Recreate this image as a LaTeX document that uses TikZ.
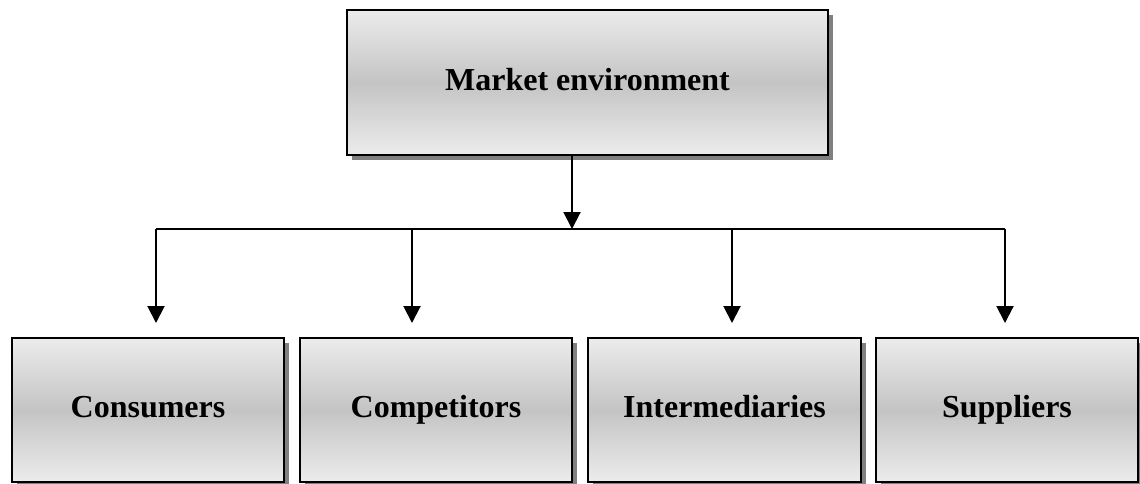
\documentclass[tikz,border=0pt]{standalone}
\usepackage{fontspec}
\setmainfont{Liberation Serif}
\usetikzlibrary{arrows.meta,shadows}
\definecolor{boxlight}{RGB}{236,236,236}
\definecolor{boxmid}{RGB}{196,196,196}
\definecolor{shadowgray}{RGB}{128,128,128}
\pgfdeclareverticalshading{boxshade}{100bp}{color(0bp)=(boxlight); color(25bp)=(boxlight); color(50bp)=(boxmid); color(75bp)=(boxlight); color(100bp)=(boxlight)}
\tikzset{
  box/.style={draw=black, line width=2.6pt, inner sep=0pt, outer sep=0pt,
    shading=boxshade,
    drop shadow={shadow xshift=5pt, shadow yshift=-5pt, fill=shadowgray, opacity=1},
    font=\fontsize{32}{38}\selectfont\bfseries, text height=22pt, text depth=7pt,
    minimum height=145pt},
  conn/.style={line width=2pt, draw=black},
  arr/.style={conn, -{Triangle[length=17pt,width=17pt]}}
}
\begin{document}
\begin{tikzpicture}[x=1pt,y=-1pt]
\useasboundingbox (0,0) rectangle (1140,483);
\node[box, minimum width=481pt] (top) at (587.5,82.5) {Market environment};
\node[box, minimum width=272pt, minimum height=144pt] (c1) at (148,410) {Consumers};
\node[box, minimum width=272pt, minimum height=144pt] (c2) at (436,410) {Competitors};
\node[box, minimum width=273pt, minimum height=144pt] (c3) at (724.5,410) {Intermediaries};
\node[box, minimum width=262pt, minimum height=144pt] (c4) at (1007,410) {Suppliers};
\coordinate (j) at (572,229);
\coordinate (d1) at (156,229);
\coordinate (d2) at (412,229);
\coordinate (d3) at (732,229);
\coordinate (d4) at (1005,229);
\draw[arr] (top.south -| j) -- (j);
\draw[conn] (d1) -- (d4);
\draw[arr] (d1) -- ([yshift=15pt]d1 |- c1.north);
\draw[arr] (d2) -- ([yshift=15pt]d2 |- c2.north);
\draw[arr] (d3) -- ([yshift=15pt]d3 |- c3.north);
\draw[arr] (d4) -- ([yshift=15pt]d4 |- c4.north);
\end{tikzpicture}
\end{document}
